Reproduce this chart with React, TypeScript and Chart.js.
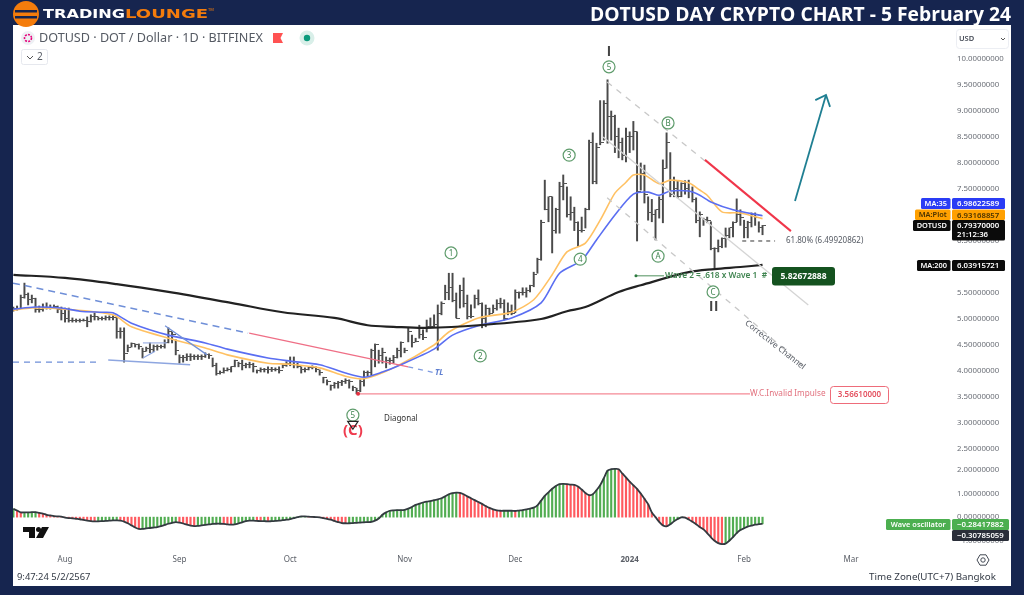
import React, { useEffect, useRef } from "react";
import { Chart, registerables } from "chart.js";

Chart.register(...registerables);

// ---------- data: one bar per day, day 0 = 1 Aug 2023 ----------
const firstDay = -14;
const closes = [5.2,5.2,5.42,5.47,5.38,5.4,5.18,5.18,5.22,5.22,5.23,5.24,5.18,5.1,
5.0,4.98,4.97,4.97,4.97,4.98,4.96,5.05,5.05,5.0,
5.0,5.02,5.03,5.02,4.75,4.75,4.33,4.45,4.52,4.5,
4.47,4.38,4.44,4.42,4.48,4.47,4.47,4.55,4.75,4.7,
4.4,4.25,4.26,4.28,4.27,4.28,4.27,4.28,4.32,4.3,
4.1,3.95,3.98,4.0,4.03,4.08,4.2,4.15,4.1,4.12,
4.13,4.08,4.0,4.02,4.02,4.03,4.03,4.03,4.0,4.1,
4.15,4.12,4.12,4.08,4.03,4.02,4.07,4.07,4.02,3.97,
3.87,3.8,3.72,3.76,3.78,3.8,3.82,3.8,3.68,3.62,
3.8,3.98,3.98,4.4,4.5,4.3,4.35,4.2,4.2,4.25,
4.4,4.55,4.4,4.75,4.55,4.57,4.7,4.65,4.85,4.85,
4.9,5.1,5.3,5.5,5.6,5.35,5.0,5.55,5.3,5.05,
5.05,5.4,5.3,5.0,5.2,5.1,5.2,5.3,5.3,5.0,
5.15,5.1,5.5,5.5,5.5,5.55,5.65,5.85,6.15,6.85,
7.1,7.35,6.7,7.1,7.55,7.6,7.0,7.05,6.85,6.7,
6.7,7.1,8.4,7.65,8.3,8.4,9.15,8.9,8.9,8.5,
8.4,8.15,8.5,8.5,8.6,7.45,7.8,7.4,7.05,7.0,
7.1,7.3,7.9,8.4,7.4,7.5,7.35,7.6,7.5,7.45,
7.3,6.9,7.0,6.92,6.9,6.35,6.35,6.4,6.55,6.6,
6.75,6.85,7.0,6.95,6.75,6.85,7.0,6.95,6.75,6.79];

const opens = [5.19,5.2,5.2,5.42,5.47,5.38,5.4,5.18,5.18,5.22,5.22,5.23,5.24,5.18,
5.1,5.0,4.98,4.97,4.97,4.97,4.98,4.96,5.05,5.05,
5.0,5.0,5.02,5.03,5.02,4.75,4.75,4.33,4.45,4.52,
4.5,4.47,4.38,4.44,4.42,4.48,4.47,4.47,4.55,4.75,
4.7,4.4,4.25,4.26,4.28,4.27,4.28,4.27,4.28,4.32,
4.3,4.1,3.95,3.98,4.0,4.03,4.08,4.2,4.15,4.1,
4.12,4.13,4.08,4.0,4.02,4.02,4.03,4.03,4.03,4.0,
4.1,4.15,4.12,4.12,4.08,4.03,4.02,4.07,4.07,4.02,
3.97,3.87,3.8,3.72,3.76,3.78,3.8,3.82,3.8,3.68,
3.62,3.8,3.98,3.98,4.4,4.5,4.3,4.35,4.2,4.2,
4.25,4.4,4.55,4.4,4.75,4.55,4.57,4.7,4.65,4.85,
4.85,4.9,5.1,5.3,5.5,5.6,5.35,5.0,5.55,5.3,
5.05,5.05,5.4,5.3,5.0,5.2,5.1,5.2,5.3,5.3,
5.0,5.15,5.1,5.5,5.5,5.5,5.55,5.65,5.85,6.15,
6.85,7.1,7.35,6.7,7.1,7.55,7.6,7.0,7.05,6.85,
6.7,6.7,7.1,8.4,7.65,8.3,8.4,9.15,8.9,8.9,
8.5,8.4,8.15,8.5,8.5,8.6,7.45,7.8,7.4,7.05,
7.0,7.1,7.3,7.9,8.4,7.4,7.5,7.35,7.6,7.5,
7.45,7.3,6.9,7.0,6.92,6.9,6.35,6.35,6.4,6.55,
6.6,6.75,6.85,7.0,6.95,6.75,6.85,7.0,6.95,6.75];

const highs = [5.23,5.25,5.46,5.69,5.5,5.46,5.4,5.25,5.29,5.31,5.27,5.27,5.25,5.23,
5.21,5.21,5.02,5.0,5.0,5.0,5.04,5.08,5.12,5.04,
5.04,5.06,5.06,5.06,5.02,4.83,4.83,4.5,4.54,4.52,
4.52,4.44,4.46,4.54,4.5,4.5,4.5,4.6,4.83,4.75,
4.6,4.31,4.3,4.33,4.33,4.31,4.31,4.31,4.35,4.33,
4.25,4.15,4.0,4.06,4.06,4.08,4.21,4.17,4.21,4.15,
4.17,4.15,4.02,4.06,4.05,4.08,4.07,4.06,4.08,4.12,
4.18,4.27,4.27,4.15,4.08,4.06,4.08,4.1,4.08,4.02,
3.88,3.83,3.73,3.78,3.8,3.82,3.85,3.83,3.71,3.67,
3.83,4.0,4.0,4.42,4.52,4.4,4.44,4.27,4.25,4.3,
4.44,4.56,4.44,4.83,4.69,4.63,4.88,4.79,4.98,5.02,
5.08,5.27,5.33,5.65,5.88,5.88,5.5,5.65,5.79,5.46,
5.27,5.46,5.56,5.31,5.27,5.21,5.27,5.37,5.4,5.37,
5.31,5.27,5.56,5.52,5.6,5.6,5.65,5.9,6.17,6.9,
7.67,7.35,7.35,7.13,7.63,7.77,7.54,7.35,7.15,6.87,
6.96,7.13,8.44,8.58,8.38,9.2,9.2,9.6,9.0,8.92,
8.67,8.48,8.67,8.6,8.8,8.6,8.0,7.96,7.35,7.3,
7.1,7.35,8.06,8.58,8.2,7.73,7.66,7.62,7.66,7.67,
7.54,7.33,7.06,6.94,6.96,6.87,6.37,6.52,6.56,6.75,
6.75,6.87,7.31,7.1,6.9,6.88,7.04,7.04,6.87,6.8];

const lows = [5.15,5.17,5.21,5.4,5.27,5.31,5.13,5.13,5.15,5.19,5.19,5.21,5.12,4.98,
4.94,4.94,4.94,4.94,4.94,4.96,4.85,4.94,4.98,4.98,
4.98,4.98,4.98,4.98,4.63,4.63,4.17,4.37,4.46,4.46,
4.42,4.25,4.38,4.35,4.37,4.4,4.44,4.44,4.54,4.54,
4.31,4.15,4.17,4.2,4.2,4.22,4.22,4.22,4.26,4.24,
4.08,3.92,3.94,3.96,4.0,3.98,4.08,4.08,4.02,4.06,
4.06,3.98,3.96,3.98,3.98,3.96,3.99,4.0,3.96,4.06,
4.09,4.1,4.06,4.06,3.96,3.98,4.02,4.04,3.98,3.92,
3.77,3.73,3.63,3.67,3.67,3.72,3.76,3.67,3.62,3.56,
3.6,3.71,3.9,3.92,4.08,4.15,4.15,4.06,4.13,4.15,
4.25,4.27,4.35,4.56,4.46,4.56,4.63,4.6,4.75,4.83,
4.85,4.4,5.08,5.37,5.37,5.33,5.02,5.21,5.23,5.0,
5.02,5.21,5.27,4.83,4.85,5.08,5.12,5.17,5.21,4.98,
5.08,5.08,5.12,5.4,5.46,5.42,5.52,5.62,5.88,6.13,
7.1,6.87,6.27,6.65,6.65,7.29,6.96,6.9,6.7,6.4,
6.67,6.75,7.1,7.6,7.6,8.35,8.44,8.38,8.44,8.2,
8.1,8.06,8.02,8.2,8.25,6.5,7.48,7.23,6.9,6.87,
6.52,6.94,6.85,7.9,7.35,7.35,7.33,7.35,7.4,7.33,
7.25,6.85,6.58,6.8,6.85,6.33,5.98,6.29,6.37,6.38,
6.56,6.58,6.87,6.8,6.56,6.56,6.77,6.8,6.67,6.62];

const oscillator = [0.35,0.28,0.2,0.2,0.2,0.21,0.21,0.18,0.15,0.1,0.07,0.04,0.03,0.02,
-0.02,-0.04,-0.05,-0.07,-0.09,-0.12,-0.15,-0.17,-0.18,-0.18,
-0.17,-0.16,-0.15,-0.14,-0.14,-0.15,-0.19,-0.26,-0.35,-0.44,
-0.5,-0.5,-0.48,-0.46,-0.44,-0.42,-0.38,-0.33,-0.28,-0.24,
-0.21,-0.23,-0.27,-0.32,-0.36,-0.38,-0.37,-0.35,-0.33,-0.31,
-0.29,-0.28,-0.28,-0.29,-0.31,-0.32,-0.31,-0.27,-0.22,-0.17,
-0.15,-0.15,-0.16,-0.17,-0.17,-0.18,-0.17,-0.16,-0.15,-0.13,
-0.11,-0.08,-0.04,0,0.03,0.03,0.02,0.01,0,-0.01,
-0.04,-0.07,-0.11,-0.16,-0.21,-0.25,-0.26,-0.26,-0.25,-0.24,
-0.23,-0.22,-0.21,-0.2,-0.15,-0.06,0.1,0.2,0.27,0.29,
0.3,0.3,0.31,0.36,0.43,0.52,0.57,0.62,0.66,0.68,
0.72,0.75,0.8,0.88,0.97,1.02,1.04,1.03,0.97,0.88,
0.8,0.72,0.64,0.56,0.47,0.39,0.33,0.29,0.27,0.27,
0.27,0.27,0.26,0.28,0.3,0.33,0.36,0.4,0.5,0.7,
0.9,1.05,1.2,1.32,1.4,1.41,1.4,1.38,1.37,1.3,
1.17,1.02,0.93,0.97,1.14,1.35,1.65,1.97,2.03,2.04,
2.03,1.85,1.68,1.5,1.35,1.2,1.0,0.78,0.55,0.2,
0,-0.2,-0.35,-0.39,-0.3,-0.18,-0.08,-0.01,-0.02,-0.1,
-0.2,-0.3,-0.42,-0.52,-0.68,-0.85,-1.0,-1.1,-1.14,-1.12,
-1.0,-0.85,-0.68,-0.55,-0.47,-0.4,-0.36,-0.32,-0.3,-0.284];

const ma35Days = [-14,-8,-1,4,10,13,18,28,38,44,55,61,69,76,81,86,91,100,105,112,121,129,134,140,144,149,154,158,161,164,169,172,175,181,189];
const ma35 = [5.19,5.23,5.21,5.15,5.13,5.12,4.92,4.69,4.54,4.42,4.25,4.19,4.12,3.96,3.88,3.98,4.12,4.42,4.69,4.87,5.02,5.31,5.88,6.13,6.52,7.0,7.4,7.44,7.38,7.46,7.46,7.38,7.25,7.1,6.986];
const maPlotDays = [-14,-9,0,13,18,28,38,44,55,61,69,76,81,89,100,104,112,121,127,132,136,141,145,149,152,154,157,161,164,169,172,174,178,183,189];
const maPlot = [5.17,5.21,5.19,5.08,4.85,4.63,4.44,4.31,4.15,4.13,4.06,3.9,3.85,4.06,4.5,4.75,5.02,5.13,5.37,5.85,6.29,6.46,6.9,7.42,7.63,7.77,7.77,7.6,7.67,7.62,7.48,7.38,7.06,7.04,6.93];
const ma200Days = [-14,0,14,28,45,59,73,82,89,98,112,129,136,141,150,156,169,176,183,189];
const ma200 = [5.85,5.79,5.67,5.52,5.31,5.13,5.02,4.88,4.85,4.83,4.88,5.0,5.15,5.23,5.52,5.65,5.9,5.96,6.0,6.04];

const priceTicks = [10,9.5,9,8.5,8,7.5,7,6.5,6,5.5,5,4.5,4,3.5,3,2.5];
const oscTicks = [2,1,0,-1];
const monthDays = [0,31,61,92,122,153,184,213];
const monthLabels = ["Aug","Sep","Oct","Nov","Dec","2024","Feb","Mar"];

// drawn tools: days and prices of each polyline
const trendLines = [
  { id: "tlDash", days: [-14.1, 49.6], prices: [5.69, 4.73] },
  { id: "tlRed", days: [49.9, 93], prices: [4.73, 4.08] },
  { id: "tlEnd", days: [93, 100.5], prices: [4.08, 3.96] },
  { id: "baseDash", days: [-14.1, 9.5], prices: [4.17, 4.17] },
  { id: "baseSolid", days: [11.7, 33.9], prices: [4.21, 4.12] },
  { id: "flagA", days: [21.1, 24.4], prices: [4.25, 4.38] },
  { id: "flagB", days: [21.1, 27.6], prices: [4.54, 4.54] },
  { id: "flagC", days: [27.1, 38.5], prices: [4.87, 4.31] },
  { id: "resist", days: [173.4, 196.7], prices: [8.06, 6.69] },
  { id: "chanTop", days: [146.9, 173.4], prices: [9.56, 8.04] },
  { id: "chanMid", days: [145.8, 201.4], prices: [8.5, 5.27] },
  { id: "chanLow", days: [146.9, 200.5], prices: [7.33, 4.08] },
  { id: "arrow", days: [197.8, 206.2], prices: [7.27, 9.31] },
  { id: "arrowHead", days: [203.3, 206.2, 207.3], prices: [9.21, 9.31, 9.08] },
  { id: "invalid", days: [79.4, 185.6], prices: [3.56, 3.56] },
  { id: "fib", days: [183.5, 192.4], prices: [6.5, 6.5] },
  { id: "wave2", days: [154.7, 162.3], prices: [5.83, 5.83] },
];

const circledLabels = [
  { text: "5", day: 147.4, price: 9.85 },
  { text: "B", day: 163.4, price: 8.77 },
  { text: "3", day: 136.6, price: 8.15 },
  { text: "1", day: 104.6, price: 6.27 },
  { text: "2", day: 112.5, price: 4.29 },
  { text: "4", day: 139.6, price: 6.15 },
  { text: "A", day: 160.7, price: 6.21 },
  { text: "C", day: 175.6, price: 5.52 },
  { text: "5", day: 78, price: 3.15 },
];

const trendStyle: Record<string, any> = {
  tlDash: { c: "#6f8fd8", w: 1.5, d: [7, 5] },
  tlRed: { c: "#ef6f86", w: 1.3 },
  tlEnd: { c: "#7f9be0", w: 1.3, d: [5, 5] },
  baseDash: { c: "#6f8fd8", w: 1.4, d: [6, 5] },
  baseSolid: { c: "#8ea6e0", w: 1.5 },
  flagA: { c: "#8ea6e0", w: 1.2 },
  flagB: { c: "#9db2e6", w: 1.2 },
  flagC: { c: "#7290d8", w: 1.3 },
  resist: { c: "#f0364a", w: 2 },
  chanTop: { c: "#c8c8c8", w: 1.3, d: [6, 6] },
  chanMid: { c: "#d4d4d4", w: 1.3 },
  chanLow: { c: "#c8c8c8", w: 1.3, d: [6, 6] },
  arrow: { c: "#1f7f92", w: 1.8 },
  arrowHead: { c: "#1f7f92", w: 1.8 },
  invalid: { c: "#f58a96", w: 1.2 },
  fib: { c: "#333333", w: 1, d: [4, 4] },
  wave2: { c: "#4e8f5c", w: 1 },
};

const UI = "'Noto Sans', sans-serif";
const NAVY = "#16254f";

function tickCanvas(side: "left" | "right") {
  const c = document.createElement("canvas");
  c.width = 7;
  c.height = 1;
  const g = c.getContext("2d")!;
  g.fillStyle = "#555";
  g.fillRect(side === "left" ? 0 : 4, 0, 3, 1);
  return c;
}

function txt(ctx: CanvasRenderingContext2D, s: string, x: number, y: number, font: string, color: string, align: CanvasTextAlign = "left", spacing = "0px") {
  ctx.font = font;
  ctx.fillStyle = color;
  ctx.textAlign = align;
  ctx.textBaseline = "middle";
  (ctx as any).letterSpacing = spacing;
  ctx.fillText(s, x, y);
  (ctx as any).letterSpacing = "0px";
}

function wideTxt(ctx: CanvasRenderingContext2D, s: string, x: number, y: number, font: string, color: string, targetWidth: number) {
  ctx.save();
  ctx.font = font;
  const k = targetWidth / ctx.measureText(s).width;
  ctx.translate(x, y);
  ctx.scale(k, 1);
  txt(ctx, s, 0, 0, font, color);
  ctx.restore();
}

function box(ctx: CanvasRenderingContext2D, x: number, y: number, w: number, h: number, color: string, r = 1.5) {
  ctx.fillStyle = color;
  ctx.beginPath();
  ctx.roundRect(x, y, w, h, r);
  ctx.fill();
}

const backdrop = {
  id: "backdrop",
  beforeDraw(chart: any) {
    const { ctx, width, height } = chart;
    ctx.save();
    ctx.fillStyle = NAVY;
    ctx.fillRect(0, 0, width, height);
    ctx.fillStyle = "#ffffff";
    ctx.fillRect(13, 25, 998, 561);
    ctx.restore();
  },
};

const overlay = {
  id: "overlay",
  afterDraw(chart: any) {
    const { ctx } = chart;
    const X = (d: number) => chart.scales.x.getPixelForValue(d);
    const Y = (p: number) => chart.scales.y.getPixelForValue(p);
    ctx.save();

    // logo
    ctx.fillStyle = "#f47c0c";
    ctx.beginPath();
    ctx.arc(26, 14, 13, 0, Math.PI * 2);
    ctx.fill();
    ctx.fillStyle = NAVY;
    ctx.fillRect(15, 10, 22, 2.5);
    ctx.fillRect(15, 16, 22, 2.5);
    wideTxt(ctx, "TRADING", 43, 14.5, "bold 12.5px 'DejaVu Sans'", "#ffffff", 82);
    wideTxt(ctx, "LOUNGE", 125, 14.5, "bold 12.5px 'DejaVu Sans'", "#f47c0c", 83);
    txt(ctx, "TM", 208, 10, "4px " + UI, "#f47c0c");

    // symbol line
    ctx.fillStyle = "#eef0f4";
    ctx.beginPath();
    ctx.arc(28, 38, 7, 0, Math.PI * 2);
    ctx.fill();
    ctx.strokeStyle = "#e6007a";
    ctx.lineWidth = 1.6;
    ctx.setLineDash([2, 1.2]);
    ctx.beginPath();
    ctx.arc(28, 38, 3.5, 0, Math.PI * 2);
    ctx.stroke();
    ctx.setLineDash([]);
    txt(ctx, "DOTUSD · DOT / Dollar · 1D · BITFINEX", 39, 38.5, "12.6px " + UI, "#555a63");
    ctx.fillStyle = "#ff5252";
    ctx.beginPath();
    ctx.moveTo(273, 33);
    ctx.lineTo(283, 33);
    ctx.lineTo(280.5, 38);
    ctx.lineTo(283, 43);
    ctx.lineTo(273, 43);
    ctx.closePath();
    ctx.fill();
    ctx.fillStyle = "#d9efe9";
    ctx.beginPath();
    ctx.arc(307, 38, 7.5, 0, Math.PI * 2);
    ctx.fill();
    ctx.fillStyle = "#0a9a7c";
    ctx.beginPath();
    ctx.arc(307, 38, 3.2, 0, Math.PI * 2);
    ctx.fill();
    ctx.strokeStyle = "#e6e8ee";
    ctx.lineWidth = 1;
    ctx.beginPath();
    ctx.roundRect(21.5, 49.5, 26, 15, 2);
    ctx.stroke();
    ctx.strokeStyle = "#555";
    ctx.beginPath();
    ctx.moveTo(27, 56);
    ctx.lineTo(30, 59);
    ctx.lineTo(33, 56);
    ctx.stroke();
    txt(ctx, "2", 37, 57, "10px " + UI, "#555a63");

    // currency box
    ctx.strokeStyle = "#eceef3";
    ctx.beginPath();
    ctx.roundRect(956.5, 29.5, 52, 19, 3);
    ctx.stroke();
    txt(ctx, "USD", 959, 38.5, "600 7.5px " + UI, "#444a55");
    ctx.strokeStyle = "#555";
    ctx.beginPath();
    ctx.moveTo(1001, 38);
    ctx.lineTo(1003, 40);
    ctx.lineTo(1005, 38);
    ctx.stroke();

    // wave labels
    circledLabels.forEach((l) => {
      const x = X(l.day), y = Y(l.price);
      ctx.fillStyle = "#ffffff";
      ctx.strokeStyle = "#5f9c6c";
      ctx.lineWidth = 1.2;
      ctx.beginPath();
      ctx.arc(x, y, 6, 0, Math.PI * 2);
      ctx.fill();
      ctx.stroke();
      txt(ctx, l.text, x, y + 0.5, "8px " + UI, "#3f8450", "center");
    });
    const BAR = "'Liberation Sans', sans-serif";
    txt(ctx, "I", X(147.4), Y(10.13), "bold 14px " + BAR, "#444444", "center");
    txt(ctx, "II", X(175.9), Y(5.23), "bold 14px " + BAR, "#444444", "center", "1px");
    txt(ctx, "(C)", X(78), Y(2.85), "bold 15px " + UI, "#ef3b4e", "center");
    ctx.strokeStyle = "#222";
    ctx.lineWidth = 1.2;
    ctx.beginPath();
    ctx.moveTo(X(76.6), Y(3.03));
    ctx.lineTo(X(78), Y(2.88));
    ctx.lineTo(X(79.4), Y(3.03));
    ctx.closePath();
    ctx.stroke();
    txt(ctx, "Diagonal", X(91), Y(3.08), "8px " + UI, "#333333", "center");
    txt(ctx, "TL", X(101.4), Y(3.96), "italic bold 8px " + UI, "#5f7fd0", "center");

    ctx.fillStyle = "#e53040";
    ctx.beginPath();
    ctx.arc(X(79.4), Y(3.56), 2, 0, Math.PI * 2);
    ctx.fill();

    // channel caption
    ctx.save();
    ctx.translate(X(192.4), Y(4.5));
    ctx.rotate((38 * Math.PI) / 180);
    txt(ctx, "Corrective Channel", 0, 0, "8.3px " + UI, "#555a63", "center");
    ctx.restore();

    // tool captions
    txt(ctx, "61.80% (6.49920862)", 786, Y(6.5), "8px " + UI, "#555a63");
    txt(ctx, "W.C.Invalid Impulse", 750, Y(3.56), "8.2px " + UI, "#e2717e");
    ctx.fillStyle = "#ffffff";
    ctx.strokeStyle = "#ee6c7a";
    ctx.lineWidth = 1;
    ctx.beginPath();
    ctx.roundRect(830.5, 386.5, 58, 17, 3);
    ctx.fill();
    ctx.stroke();
    txt(ctx, "3.56610000", 859.5, 395, "600 8px " + UI, "#e4505f", "center");

    ctx.fillStyle = "#2d7a3f";
    ctx.beginPath();
    ctx.arc(X(154.7), Y(5.83), 1.5, 0, Math.PI * 2);
    ctx.fill();
    txt(ctx, "Wave 2 = .618 x Wave 1  #", 665, Y(5.83), "600 8.3px " + UI, "#3f8450");
    box(ctx, 772, 267, 63, 18.5, "#14521f", 3);
    txt(ctx, "5.82672888", 803.5, 276.5, "bold 8.5px " + UI, "#ffffff", "center");

    // price tags
    const tag = (label: string, lx: number, y: number, h: number, color: string, fg: string) => {
      box(ctx, lx, y, 950.5 - lx, h, color);
      txt(ctx, label, (lx + 950.5) / 2, y + h / 2 + 0.5, "600 7.4px " + UI, fg, "center");
    };
    const val = (v: string, y: number, h: number, color: string, fg: string, right = 1005) => {
      box(ctx, 952, y, right - 952, h, color);
      txt(ctx, v, 957, y + 5.8, "600 7.8px " + UI, fg);
    };
    tag("MA:35", 921, 198, 11, "#2a3cf5", "#ffffff");
    val("6.98622589", 198, 11, "#2a3cf5", "#ffffff");
    tag("MA:Plot", 915, 209.5, 10.5, "#ffa000", "#4a3300");
    val("6.93168857", 209.5, 10.5, "#ffa000", "#4a3300");
    tag("DOTUSD", 913, 220, 11, "#0b0b0b", "#ffffff");
    val("6.79370000", 220, 20.5, "#0b0b0b", "#ffffff");
    txt(ctx, "21:12:36", 957, 235, "600 7.8px " + UI, "#ffffff");
    tag("MA:200", 917, 260, 11, "#0b0b0b", "#ffffff");
    val("6.03915721", 260, 11, "#0b0b0b", "#ffffff");
    tag("Wave oscillator", 886, 519, 11, "#4caf50", "#ffffff");
    val("−0.28417882", 519, 11, "#4caf50", "#ffffff", 1009);
    val("−0.30785059", 530, 11, "#2a2e39", "#ffffff", 1009);

    // TradingView mark
    ctx.fillStyle = "#111111";
    ctx.fillRect(23, 527, 12, 5);
    ctx.fillRect(29, 527, 6, 11);
    ctx.beginPath();
    ctx.arc(38.5, 529.5, 2.5, 0, Math.PI * 2);
    ctx.fill();
    ctx.beginPath();
    ctx.moveTo(42, 527);
    ctx.lineTo(49, 527);
    ctx.lineTo(43, 538);
    ctx.lineTo(36, 538);
    ctx.closePath();
    ctx.fill();

    // settings gear
    ctx.strokeStyle = "#444a55";
    ctx.lineWidth = 1;
    ctx.beginPath();
    for (let i = 0; i < 6; i++) {
      const a = (i * Math.PI) / 3;
      const px = 983 + 6 * Math.cos(a), py = 560 + 6 * Math.sin(a);
      if (i === 0) ctx.moveTo(px, py);
      else ctx.lineTo(px, py);
    }
    ctx.closePath();
    ctx.stroke();
    ctx.beginPath();
    ctx.arc(983, 560, 2.2, 0, Math.PI * 2);
    ctx.stroke();

    // footer
    txt(ctx, "9:47:24 5/2/2567", 17, 577, "9.4px " + UI, "#333a45");
    txt(ctx, "Time Zone(UTC+7) Bangkok", 996, 577, "9.8px " + UI, "#333a45", "right");
    ctx.restore();
  },
};

export default function App() {
  const ref = useRef<HTMLCanvasElement>(null);
  useEffect(() => {
    document.body.style.margin = "0";
    const days = closes.map((_, i) => firstDay + i);
    const pts = (ds: number[], vs: number[]) => ds.map((d, i) => ({ x: d, y: vs[i] }));
    const chart = new Chart(ref.current!, {
      type: "bar",
      data: {
        datasets: [
          ...trendLines.map((t) => ({
            type: "line" as const,
            label: t.id,
            data: pts(t.days, t.prices),
            yAxisID: "y",
            borderColor: trendStyle[t.id].c,
            borderWidth: trendStyle[t.id].w,
            borderDash: trendStyle[t.id].d || [],
            pointRadius: 0,
            tension: 0,
            order: 2,
          })),
          { type: "line" as const, label: "MA:200", data: pts(ma200Days, ma200), yAxisID: "y", borderColor: "#222222", borderWidth: 2.2, pointRadius: 0, tension: 0.35, order: 3 },
          { type: "line" as const, label: "MA:35", data: pts(ma35Days, ma35), yAxisID: "y", borderColor: "#5a6ef2", borderWidth: 1.6, pointRadius: 0, tension: 0.25, order: 4 },
          { type: "line" as const, label: "MA:Plot", data: pts(maPlotDays, maPlot), yAxisID: "y", borderColor: "#ffc163", borderWidth: 1.6, pointRadius: 0, tension: 0.25, order: 5 },
          { type: "line" as const, label: "open", data: pts(days, opens), yAxisID: "y", showLine: false, pointStyle: tickCanvas("left"), order: 6 },
          { type: "line" as const, label: "close", data: pts(days, closes), yAxisID: "y", showLine: false, pointStyle: tickCanvas("right"), order: 6 },
          {
            type: "bar" as const,
            label: "DOTUSD",
            data: days.map((d, i) => ({ x: d, y: [lows[i], highs[i]] })),
            yAxisID: "y",
            backgroundColor: "#4a4a4a",
            barThickness: 1.3,
            grouped: false,
            order: 7,
          },
          { type: "line" as const, label: "osc line", data: pts(days, oscillator), yAxisID: "yo", borderColor: "#333a40", borderWidth: 1.8, pointRadius: 0, tension: 0.3, order: 1 },
          {
            type: "bar" as const,
            label: "Wave oscillator",
            data: pts(days, oscillator),
            yAxisID: "yo",
            backgroundColor: oscillator.map((v, i) => (i > 0 && v < oscillator[i - 1] ? "#ff5a5f" : "#52ad52")),
            barThickness: 1.5,
            grouped: false,
            order: 8,
          },
        ] as any,
      },
      options: {
        responsive: false,
        animation: false,
        events: [],
        layout: { padding: { left: 13, right: 13, top: 0, bottom: 9 } },
        plugins: {
          legend: { display: false },
          tooltip: { enabled: false },
          title: {
            display: true,
            text: "DOTUSD DAY CRYPTO CHART - 5 February 24",
            align: "end",
            color: "#ffffff",
            font: { family: "'Open Sans', sans-serif", size: 19.3, weight: "700", lineHeight: 1.0 },
            padding: { top: 5.7, bottom: 0 },
          },
        },
        scales: {
          x: {
            type: "linear",
            min: -14.1,
            max: 239.8,
            offset: false,
            grid: { display: false, drawTicks: false },
            border: { display: false },
            afterBuildTicks: (s: any) => {
              s.ticks = monthDays.map((v) => ({ value: v }));
            },
            afterFit: (s: any) => {
              s.height = 34;
            },
            ticks: {
              autoSkip: false,
              maxRotation: 0,
              padding: 3,
              color: "#5c6068",
              font: (c: any) => ({ family: "'Noto Sans'", size: 8, weight: c.tick && c.tick.value === 153 ? "700" : "400" }),
              callback: (v: any) => monthLabels[monthDays.indexOf(v)] ?? "",
            },
          },
          y: {
            type: "linear",
            position: "right",
            stack: "panes",
            stackWeight: 435,
            min: 2.288,
            max: 10.654,
            grid: { display: false, drawTicks: false },
            border: { display: false },
            afterBuildTicks: (s: any) => {
              s.ticks = priceTicks.map((v) => ({ value: v }));
            },
            afterFit: (s: any) => {
              s.width = 61;
            },
            ticks: {
              autoSkip: false,
              padding: 7,
              color: "#6a6e76",
              font: { family: "'Noto Sans'", size: 7.8 },
              callback: (v: any) => Number(v).toFixed(8),
            },
          },
          yo: {
            type: "linear",
            position: "right",
            stack: "panes",
            stackWeight: 92,
            min: -1.477,
            max: 2.42,
            grid: { display: false, drawTicks: false },
            border: { display: false },
            afterBuildTicks: (s: any) => {
              s.ticks = oscTicks.map((v) => ({ value: v }));
            },
            afterFit: (s: any) => {
              s.width = 61;
            },
            ticks: {
              autoSkip: false,
              padding: 7,
              color: "#6a6e76",
              font: { family: "'Noto Sans'", size: 7.8 },
              callback: (v: any) => Number(v).toFixed(8).replace("-", "−"),
            },
          },
        },
      } as any,
      plugins: [backdrop, overlay],
    });
    return () => chart.destroy();
  }, []);
  return (
    <div style={{ position: "absolute", left: 0, top: 0, width: 1024, height: 595 }}>
      <canvas ref={ref} width={1024} height={595} style={{ display: "block", filter: "blur(0.35px)" }} />
    </div>
  );
}
